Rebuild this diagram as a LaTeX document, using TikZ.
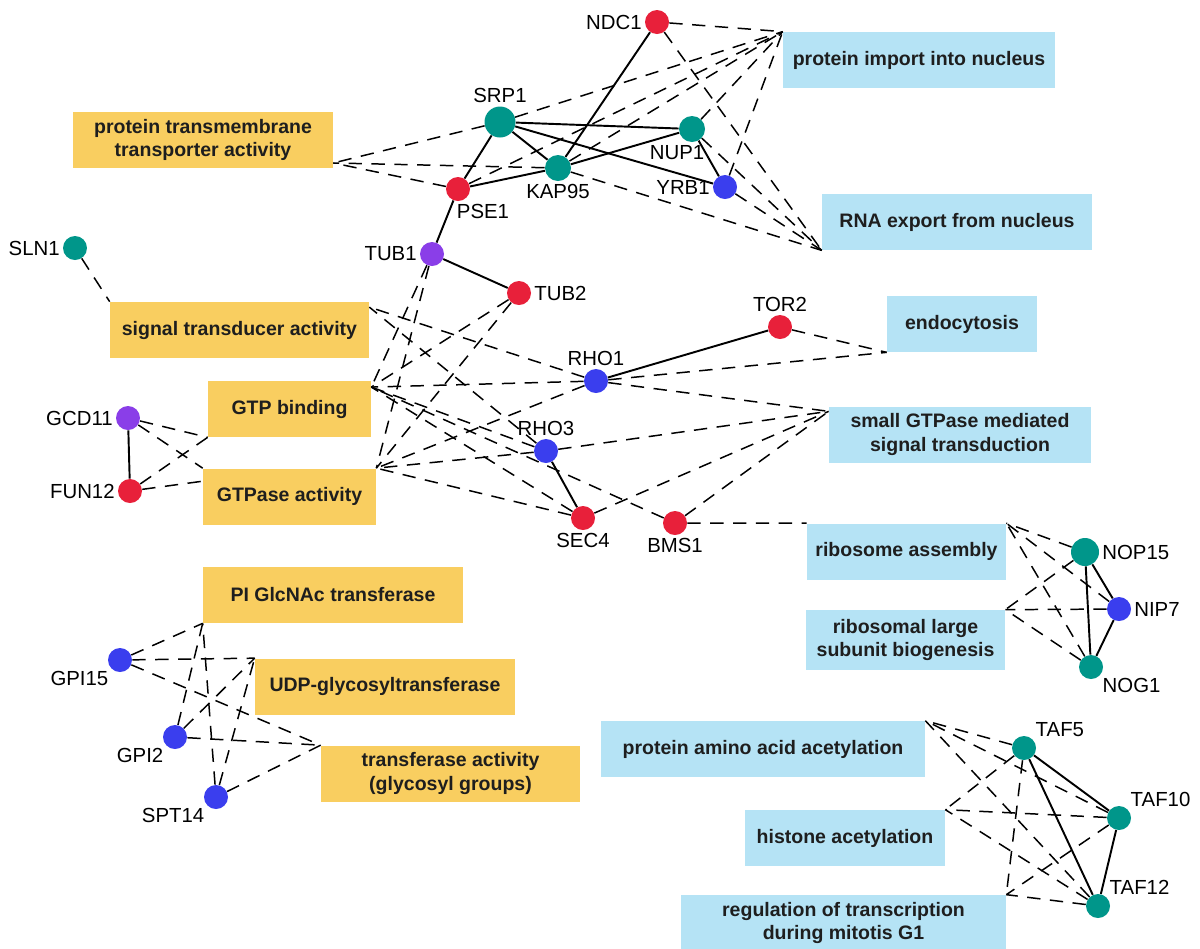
\documentclass[tikz,border=0pt]{standalone}
\usepackage{fontspec}
\setmainfont{Liberation Sans}
\definecolor{genered}{RGB}{232,32,58}
\definecolor{geneteal}{RGB}{0,150,138}
\definecolor{geneblue}{RGB}{58,62,238}
\definecolor{genepurple}{RGB}{138,62,232}
\definecolor{termyellow}{RGB}{249,206,96}
\definecolor{termblue}{RGB}{181,227,245}
\definecolor{termtext}{RGB}{30,30,30}

\begin{document}
\begin{tikzpicture}[x=0.02cm, y=-0.02cm,
    gene/.style={circle, inner sep=0pt, minimum size=0.48cm},
    lbl/.style={font=\fontsize{11.6}{13}\selectfont, text=black, inner sep=1.5pt},
    term/.style={rectangle, inner sep=0pt, minimum height=1.12cm, align=center,
        text=termtext, font=\bfseries\fontsize{11.1}{13.2}\selectfont},
    fn/.style={term, fill=termyellow},
    proc/.style={term, fill=termblue},
    assoc/.style={line width=0.85pt, dash pattern=on 7.6pt off 5.4pt},
    link/.style={line width=1.1pt}]
\useasboundingbox (0,0) rectangle (1200,948);

\node[proc, minimum width=5.44cm] (pin) at (919,60) {protein import into nucleus};
\node[fn, minimum width=5.2cm] (ptta) at (203,140) {protein transmembrane\\transporter activity};
\node[proc, minimum width=5.4cm] (rna) at (957,222) {RNA export from nucleus};
\node[fn, minimum width=5.18cm] (sta) at (239.5,330) {signal transducer activity};
\node[proc, minimum width=3cm] (endo) at (962,324) {endocytosis};
\node[fn, minimum width=3.26cm] (gtpb) at (289.5,409) {GTP binding};
\node[proc, minimum width=5.24cm] (sgst) at (960,434.5) {small GTPase mediated\\signal transduction};
\node[fn, minimum width=3.46cm] (gtpa) at (289.5,496.5) {GTPase activity};
\node[proc, minimum width=3.98cm] (riba) at (906.5,551.5) {ribosome assembly};
\node[proc, minimum width=3.98cm, minimum height=1.2cm] (rlsb) at (905.5,640) {ribosomal large\\subunit biogenesis};
\node[fn, minimum width=5.2cm] (piga) at (333,595) {PI GlcNAc transferase};
\node[fn, minimum width=5.2cm] (udp) at (385,686.5) {UDP-glycosyltransferase};
\node[fn, minimum width=5.18cm] (tfa) at (450.5,773.5) {transferase activity\\(glycosyl groups)};
\node[proc, minimum width=6.48cm] (paaa) at (763,749) {protein amino acid acetylation};
\node[proc, minimum width=4cm] (hac) at (845,838) {histone acetylation};
\node[proc, minimum width=6.5cm] (rtm) at (843.5,923) {regulation of transcription\\during mitotis G1};

\node[gene, fill=genered, label={[lbl]left:NDC1}] (NDC1) at (657,22) {};
\node[gene, fill=geneteal, minimum size=0.62cm, label={[lbl]above:SRP1}] (SRP1) at (500,122) {};
\node[gene, fill=geneteal, minimum size=0.52cm, label={[lbl, xshift=-0.3cm]below:NUP1}] (NUP1) at (692,129) {};
\node[gene, fill=geneteal, minimum size=0.52cm, label={[lbl]below:KAP95}] (KAP95) at (558,168) {};
\node[gene, fill=geneblue, label={[lbl]left:YRB1}] (YRB1) at (725,187) {};
\node[gene, fill=genered, label={[lbl, xshift=0.5cm]below:PSE1}] (PSE1) at (458,189) {};
\node[gene, fill=genepurple, label={[lbl]left:TUB1}] (TUB1) at (432,254) {};
\node[gene, fill=genered, label={[lbl]right:TUB2}] (TUB2) at (519,293) {};
\node[gene, fill=geneteal, label={[lbl]left:SLN1}] (SLN1) at (75,248) {};
\node[gene, fill=genered, label={[lbl]above:TOR2}] (TOR2) at (780,327) {};
\node[gene, fill=geneblue, label={[lbl]above:RHO1}] (RHO1) at (596,381) {};
\node[gene, fill=geneblue, label={[lbl]above:RHO3}] (RHO3) at (546,451) {};
\node[gene, fill=genepurple, label={[lbl]left:GCD11}] (GCD11) at (128,418) {};
\node[gene, fill=genered, label={[lbl]left:FUN12}] (FUN12) at (130,491) {};
\node[gene, fill=genered, label={[lbl]below:SEC4}] (SEC4) at (583,518) {};
\node[gene, fill=genered, label={[lbl]below:BMS1}] (BMS1) at (675,523) {};
\node[gene, fill=geneteal, minimum size=0.56cm, label={[lbl]right:NOP15}] (NOP15) at (1085,552) {};
\node[gene, fill=geneblue, label={[lbl]right:NIP7}] (NIP7) at (1119,609) {};
\node[gene, fill=geneteal, label={[lbl]below right:NOG1}] (NOG1) at (1091,667) {};
\node[gene, fill=geneblue, label={[lbl]below left:GPI15}] (GPI15) at (120,660) {};
\node[gene, fill=geneblue, label={[lbl]below left:GPI2}] (GPI2) at (175,737) {};
\node[gene, fill=geneblue, label={[lbl]below left:SPT14}] (SPT14) at (216,797) {};
\node[gene, fill=geneteal, label={[lbl]above right:TAF5}] (TAF5) at (1024,748) {};
\node[gene, fill=geneteal, label={[lbl]above right:TAF10}] (TAF10) at (1119,818) {};
\node[gene, fill=geneteal, label={[lbl]above right:TAF12}] (TAF12) at (1098,906) {};

\foreach \g/\t in {NDC1/pin.north west, SRP1/pin.north west, KAP95/pin.north west,
    PSE1/pin.north west, NUP1/pin.north west, YRB1/pin.north west,
    NDC1/rna.south west, NUP1/rna.south west, YRB1/rna.south west, KAP95/rna.south west,
    SRP1/ptta.-10, KAP95/ptta.-10, PSE1/ptta.-10,
    SLN1/sta.north west, RHO1/sta.10, RHO3/sta.10,
    TOR2/endo.south west, RHO1/endo.south west,
    TUB1/gtpb.15, TUB2/gtpb.15, RHO1/gtpb.15, RHO3/gtpb.15, SEC4/gtpb.15, BMS1/gtpb.15,
    GCD11/gtpb.south west, FUN12/gtpb.south west,
    TUB1/gtpa.north east, TUB2/gtpa.north east, RHO1/gtpa.north east,
    RHO3/gtpa.north east, SEC4/gtpa.north east,
    GCD11/gtpa.north west, FUN12/gtpa.170,
    RHO1/sgst.170, RHO3/sgst.170, SEC4/sgst.170, BMS1/sgst.170,
    BMS1/riba.north west, NOP15/riba.north east, NIP7/riba.north east, NOG1/riba.north east,
    NOP15/rlsb.north east, NIP7/rlsb.north east, NOG1/rlsb.north east,
    GPI15/piga.south west, GPI2/piga.south west, SPT14/piga.south west,
    GPI15/udp.north west, GPI2/udp.north west, SPT14/udp.north west,
    GPI15/tfa.north west, GPI2/tfa.north west, SPT14/tfa.north west,
    TAF5/paaa.north east, TAF10/paaa.north east, TAF12/paaa.north east,
    TAF5/hac.north east, TAF10/hac.north east, TAF12/hac.north east,
    TAF5/rtm.north east, TAF10/rtm.north east, TAF12/rtm.north east}
    \draw[assoc] (\g) -- (\t);

\foreach \a/\b in {NDC1/KAP95, SRP1/NUP1, SRP1/KAP95, SRP1/YRB1, SRP1/PSE1,
    PSE1/KAP95, KAP95/NUP1, NUP1/YRB1, PSE1/TUB1, TUB1/TUB2, RHO1/TOR2, RHO3/SEC4,
    GCD11/FUN12, NOP15/NIP7, NOP15/NOG1, NIP7/NOG1, TAF5/TAF10, TAF5/TAF12, TAF10/TAF12}
    \draw[link] (\a) -- (\b);
\end{tikzpicture}
\end{document}
